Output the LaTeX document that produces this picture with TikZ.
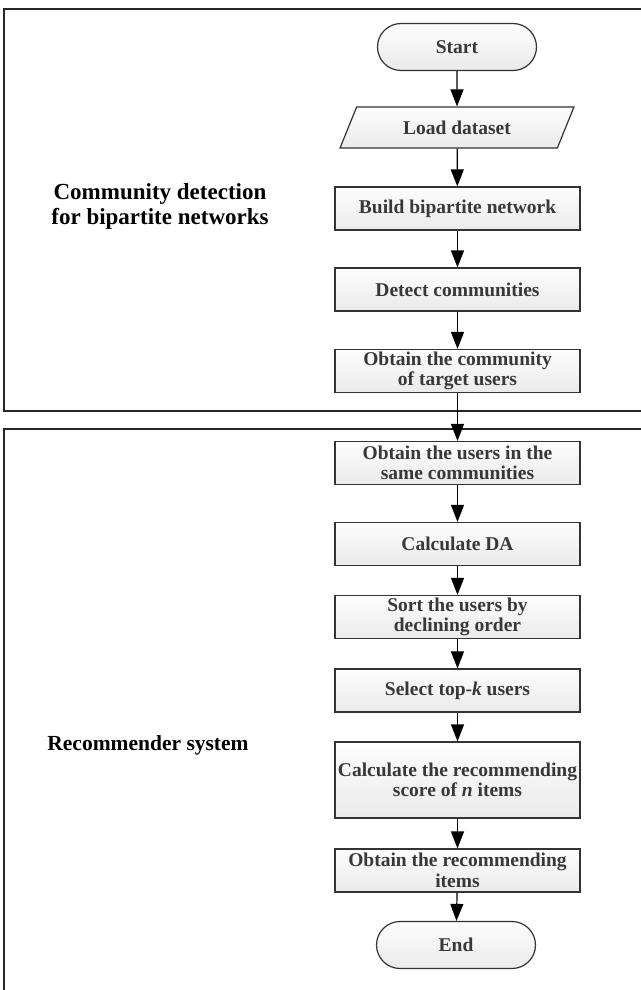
\documentclass[tikz,border=0pt]{standalone}
\usepackage{fontspec}
\setmainfont{Liberation Serif}
\usetikzlibrary{arrows.meta}
\usetikzlibrary{shapes.geometric, shapes.misc}
\usetikzlibrary{positioning}

\begin{document}
\begin{tikzpicture}[x=1pt, y=-1pt]
	\useasboundingbox (0,0) rectangle (640,990);
	% the two panels
	\begin{scope}[line width=1.3pt, draw=black!85]
		\draw (4,9) rectangle (660,411);
		\draw (4,429) rectangle (660,1010);
	\end{scope}

	\begin{scope}[every node/.style={font=\bfseries\fontsize{21.5}{25}\selectfont, align=center}]
		\node[font=\bfseries\fontsize{23}{25}\selectfont] (detection) at (160,206) {Community detection\\for bipartite networks};
		\node (recsys) at (148,745) {Recommender system};
	\end{scope}

	\begin{scope}[every node/.style={draw=black!80, line width=1.2pt, top color=gray!2, bottom color=gray!16,
	                                 text=black!78, align=center, inner sep=1pt,
	                                 font=\bfseries\fontsize{19.5}{20.5}\selectfont},
	              stepbox/.style={rectangle, minimum width=245, minimum height=43},
	              term/.style={rounded rectangle, minimum width=161, minimum height=47}]
		\node[term] (start) at (457,47) {Start};
		\node[trapezium, trapezium left angle=60, trapezium right angle=120, trapezium stretches=true,
		      minimum width=234, minimum height=41] (load) at (457,127.5) {Load dataset};
		\node[stepbox] (build) at (457.5,208.5) {Build bipartite network};
		\node[stepbox] (detect) at (457.5,289.5) {Detect communities};
		\node[stepbox] (community) at (457.5,371) {Obtain the community\\of target users};
		\node[stepbox] (users) at (457.5,463) {Obtain the users in the\\same communities};
		\node[stepbox] (da) at (457.5,544) {Calculate DA};
		\node[stepbox] (sort) at (457.5,617) {Sort the users by\\declining order};
		\node[stepbox] (topk) at (457.5,690.5) {Select top-\textit{k} users};
		\node[stepbox, minimum height=76] (score) at (457.5,780) {Calculate the recommending\\score of \textit{n} items};
		\node[stepbox] (items) at (457.5,870.5) {Obtain the recommending\\items};
		\node[term] (end) at (456,945) {End};
	\end{scope}

	\begin{scope}[every edge/.style={draw=black, line width=1.2pt, -{Triangle[length=17pt, width=13pt]}}]
		\foreach \a/\b in {start/load, load/build, build/detect, detect/community, community/users,
		                   users/da, da/sort, sort/topk, topk/score, score/items, items/end}{\path (\a) edge (\b);}
	\end{scope}
\end{tikzpicture}
\end{document}
